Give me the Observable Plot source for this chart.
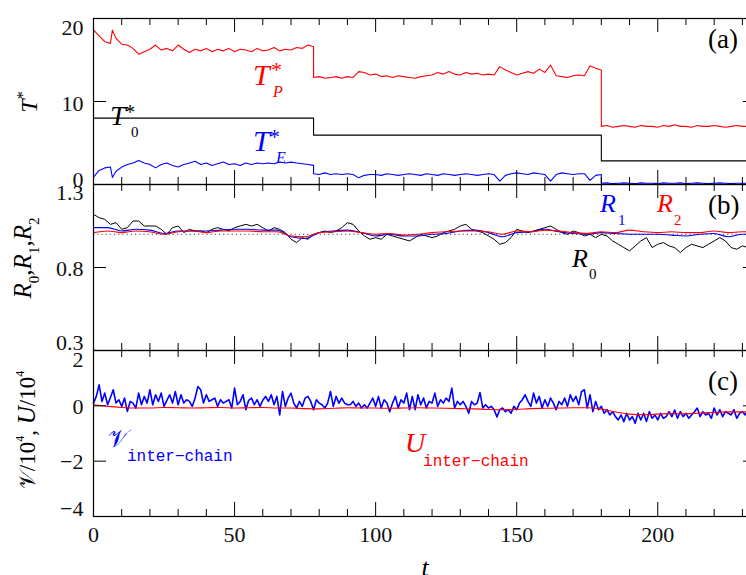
<!DOCTYPE html>
<html><head><meta charset="utf-8">
<script src="https://cdn.jsdelivr.net/npm/d3@7"></script>
<script src="https://cdn.jsdelivr.net/npm/@observablehq/plot@0.6"></script>
<style>
html,body{margin:0;padding:0;background:#fff;overflow:hidden}
#wrap{position:relative;width:746px;height:575px;overflow:hidden;background:#fff}
#wrap svg{position:absolute;left:0}
</style></head><body><div id="wrap"></div>
<script>
// ---------- tick values ----------
const xMajor = [0, 50, 100, 150, 200];
const xMinor = [10, 20, 30, 40, 60, 70, 80, 90, 110, 120, 130, 140, 160, 170, 180, 190, 210, 220, 230];
const aTicks = [0, 10, 20], aLabels = ["0", "10", "20"];
const bTicks = [0.3, 0.8, 1.3], bLabels = ["0.3", "0.8", "1.3"];
const cTicks = [-4, -2, 0, 2], cLabels = ["\u22124", "\u22122", "0", "2"];

// ---------- panel (a): temperatures ----------
const tA1 = [0, 2, 4, 6, 6.7, ...d3.range(8, 79, 2)];
const tA2 = d3.range(78, 181, 2);
const tA3 = d3.range(180, 233, 2);
const TP1 = [18.6,17.9,17.2,17.0,18.6,17.6,16.9,16.8,16.4,15.7,16.0,16.3,16.8,16.2,16.4,16.1,16.8,16.3,15.9,16.3,16.1,16.4,16.0,16.3,16.1,16.4,16.0,16.3,16.2,16.0,16.4,16.1,16.2,16.5,16.1,16.3,16.2,16.5,16.4,16.8,16.6];
const TP2 = [12.9,13.0,12.8,12.9,13.0,12.8,13.0,12.9,13.6,13.5,
             13.2,13.3,13.0,13.1,12.9,13.1,13.0,12.9,12.8,13.0,
             13.1,13.2,13.5,13.3,13.6,13.3,13.2,13.5,13.3,13.4,
             13.2,13.3,13.2,14.2,13.8,13.5,13.2,13.4,13.6,13.4,
             13.9,13.5,14.4,13.1,13.0,12.9,13.1,13.2,13.1,14.3,
             14.0,13.8];
const TP3 = [7.0,7.1,6.9,7.0,7.1,7.0,6.9,7.1,7.0,7.0,6.9,7.1,7.0,7.2,7.0,7.0,6.9,7.1,7.0,7.0,7.1,7.0,6.9,7.0,7.1,7.0,7.0];
const TE1 = [0.9,1.7,2.0,2.1,0.85,1.6,2.1,2.4,2.6,2.9,2.6,2.4,2.0,2.4,2.6,2.3,2.1,2.4,2.6,2.8,2.4,2.6,2.3,2.5,2.7,2.4,2.5,2.3,2.6,2.4,2.6,2.5,2.6,2.5,2.7,2.6,2.7,2.6,2.5,2.4,2.3];
const TE2 = [1.3,1.2,1.4,1.2,1.3,1.2,1.3,1.2,0.8,1.1,
             1.2,1.2,1.1,1.3,1.2,1.1,1.2,1.3,1.2,1.1,
             1.3,1.2,1.1,1.3,1.2,1.1,1.2,1.3,1.2,1.1,
             1.2,1.3,1.2,0.4,1.1,1.3,1.4,1.3,1.2,1.4,
             1.3,1.2,0.4,1.2,1.4,1.3,1.2,1.3,1.3,0.5,
             1.1,1.2];
const TE3 = [0.15,0.2,0.1,0.15,0.2,0.15,0.1,0.2,0.15,0.15,0.1,0.2,0.15,0.15,0.2,0.1,0.15,0.2,0.15,0.1,0.15,0.2,0.15,0.1,0.15,0.15,0.15];
const T0Breaks = [0, 78, 180, 232];
const T0 = [8.0, 5.95, 2.85];

// ---------- panel (b): ratios ----------
const tB0 = d3.range(0, 233, 2);
const R0 = [1.12,1.10,1.09,1.06,1.07,1.03,1.04,1.08,1.08,1.05,
            1.05,1.05,1.03,1.00,1.04,1.05,1.01,1.03,1.02,1.02,
            1.01,1.03,1.04,1.03,1.02,1.04,1.05,1.06,1.05,1.06,
            1.04,1.02,1.04,1.03,1.01,0.97,0.95,0.98,0.97,1.00,
            1.01,1.02,1.01,1.02,1.04,1.07,1.06,1.02,0.99,0.97,
            0.98,0.97,1.00,0.99,0.98,0.97,0.96,0.98,1.00,0.99,
            0.98,0.99,1.01,1.02,1.03,1.05,1.06,1.03,1.02,1.01,
            0.99,0.97,0.94,0.95,0.98,1.03,1.02,1.01,1.02,1.03,
            1.04,1.05,1.03,1.01,1.00,1.02,1.01,0.99,1.00,0.98,
            1.00,0.99,0.96,0.94,0.92,0.90,0.93,0.96,0.98,0.92,
            0.94,0.95,0.93,0.92,0.89,0.92,0.94,0.93,0.92,0.94,
            0.96,0.98,0.96,0.92,0.91,0.93,0.92];
const tB = d3.range(0, 236, 5);
const R1 = [1.04,1.04,1.02,1.03,1.025,1.005,1.02,1.02,1.02,1.025,
            1.03,1.03,1.025,1.025,0.985,0.975,1.01,1.02,1.025,1.01,
            0.99,1.0,0.99,0.99,1.0,1.005,1.02,1.025,1.01,0.985,
            1.01,1.015,1.03,1.015,1.005,1.0,1.01,1.005,1.0,1.0,
            1.0,0.995,0.99,1.0,1.005,0.985,1.0,1.0];
const R2 = [1.01,1.02,1.01,1.02,1.015,1.0,1.015,1.02,1.01,1.02,
            1.02,1.02,1.015,1.015,0.99,0.985,1.01,1.015,1.02,1.01,
            1.0,1.005,0.995,1.0,1.01,1.015,1.02,1.02,1.015,1.0,
            1.02,1.015,1.025,1.02,1.01,1.005,1.015,1.01,1.025,1.015,
            1.01,1.015,1.01,1.01,1.02,1.01,1.015,1.015];
const Rref = [1.0];

// ---------- panel (c): inter-chain virial and energy (/10^4) ----------
const tCV = d3.range(0, 233, 1);
const V = [0.10,0.34,0.76,0.16,0.46,0.04,0.30,0.58,0.10,0.22,
           -0.02,0.28,-0.20,0.16,0.10,-0.08,0.46,0.04,0.34,0.10,
           0.58,0.04,0.40,0.16,0.46,-0.02,0.20,0.40,0.10,0.52,
           0.04,0.40,0.10,0.22,0.16,-0.02,0.28,0.70,0.58,0.10,
           0.40,0.16,0.22,0.28,-0.02,0.22,0.10,0.16,0.22,-0.08,
           0.64,0.04,0.16,0.40,-0.14,0.20,0.28,0.04,0.22,-0.02,
           0.20,0.34,0.16,0.40,0.04,0.34,-0.33,0.52,-0.02,0.28,
           0.46,0.10,-0.08,0.16,-0.02,0.28,0.34,0.16,-0.14,0.22,
           0.10,0.04,-0.08,0.10,0.52,-0.02,0.34,0.10,0.28,0.10,
           0.04,0.04,0.16,-0.02,0.10,-0.08,0.04,-0.08,0.10,0.28,
           -0.02,0.34,-0.08,0.22,0.10,-0.21,0.10,0.34,-0.08,0.22,
           0.10,0.46,-0.14,0.34,-0.14,0.40,0.04,0.28,-0.08,0.16,
           0.10,0.46,-0.02,0.22,0.10,0.28,0.16,0.64,-0.08,0.16,
           0.04,0.16,-0.02,-0.27,0.16,0.04,0.10,0.48,-0.08,0.04,
           -0.08,-0.02,-0.14,-0.40,-0.14,-0.08,-0.21,-0.14,-0.27,-0.02,
           -0.14,0.10,0.22,0.40,0.16,-0.02,0.46,0.10,0.34,-0.08,
           0.22,-0.02,0.28,0.10,-0.14,0.16,0.04,0.28,-0.02,0.40,
           0.16,0.34,0.04,0.52,0.58,-0.08,0.40,-0.21,0.16,-0.14,
           -0.02,-0.27,-0.14,-0.33,-0.21,-0.39,-0.51,-0.33,-0.57,-0.27,
           -0.51,-0.39,-0.63,-0.27,-0.51,-0.27,-0.57,-0.21,-0.45,-0.33,
           -0.51,-0.27,-0.45,-0.39,-0.21,-0.39,-0.15,-0.45,-0.21,-0.39,
           -0.27,-0.45,-0.33,-0.21,-0.08,-0.39,-0.21,-0.33,-0.27,-0.45,
           -0.08,-0.33,-0.14,-0.39,-0.21,-0.27,-0.33,-0.14,-0.45,-0.27,
           -0.21,-0.33,-0.15];
const tCU = d3.range(0, 236, 5);
const U = [0.04,-0.02,-0.06,-0.08,-0.08,-0.06,-0.07,-0.08,-0.07,-0.06,
           -0.08,-0.07,-0.06,-0.08,-0.08,-0.10,-0.11,-0.09,-0.07,-0.08,
           -0.08,-0.09,-0.08,-0.07,-0.08,-0.09,-0.10,-0.11,-0.13,-0.14,
           -0.13,-0.10,-0.09,-0.08,-0.07,-0.07,-0.12,-0.22,-0.30,-0.32,
           -0.30,-0.28,-0.29,-0.26,-0.24,-0.22,-0.22,-0.22];

// ---------- helpers ----------
function zip(ts, vs, name) {
  if (ts.length !== vs.length) throw new Error(`length mismatch in ${name}: ${ts.length} vs ${vs.length}`);
  return ts.map((t, i) => ({t, v: vs[i]}));
}
const serif = "Liberation Serif, serif";
const mono = "Liberation Mono, monospace";
const W = 760, ML = 93, MR = 4, H = 166, FW = W - ML - MR;
const xDomain = [0, 235];
const TICKFS = 22;

function xTickMarks() {
  return [
    Plot.ruleX(xMinor, {x: d => d, insetBottom: H - 7, stroke: "#000"}),
    Plot.ruleX(xMinor, {x: d => d, insetTop: H - 7, stroke: "#000"}),
    Plot.ruleX(xMajor, {x: d => d, insetBottom: H - 14, stroke: "#000"}),
    Plot.ruleX(xMajor, {x: d => d, insetTop: H - 14, stroke: "#000"})
  ];
}
function yTickMarks(ticks) {
  return [
    Plot.ruleY(ticks, {y: d => d, insetRight: FW - 13, stroke: "#000"}),
    Plot.ruleY(ticks, {y: d => d, insetLeft: FW - 13, stroke: "#000"})
  ];
}
function yTickLabels(ticks, labels, dys) {
  return ticks.map((v, i) => Plot.text([v], {
    y: d => d, text: () => labels[i], frameAnchor: "left", dx: -10, dy: dys[i],
    textAnchor: "end", fontSize: TICKFS, fontFamily: serif, fill: "#111"
  }));
}
const style = {background: "transparent", overflow: "visible", maxWidth: "none", fontFamily: serif};

// ---------- panel (a) ----------
const redA = zip(tA1, TP1, "TP1").concat(zip(tA2, TP2, "TP2"), zip(tA3, TP3, "TP3"));
const blueA = zip(tA1, TE1, "TE1").concat(zip(tA2, TE2, "TE2"), zip(tA3, TE3, "TE3"));
const blackA = T0.flatMap((v, i) => [{t: T0Breaks[i], v}, {t: T0Breaks[i + 1], v}]);

const topA = 0, topB = 184, topC = 350;
const plotA = Plot.plot({
  width: W, height: 184, marginLeft: ML, marginRight: MR, marginTop: 18, marginBottom: 0,
  x: {domain: xDomain, axis: null}, y: {domain: [0, 20], axis: null}, style,
  marks: [
    Plot.line(redA, {x: "t", y: "v", stroke: "#ff0000", strokeWidth: 1.1}),
    Plot.line(blackA, {x: "t", y: "v", stroke: "#000", strokeWidth: 1.1}),
    Plot.line(blueA, {x: "t", y: "v", stroke: "#0000ff", strokeWidth: 1.1}),
    ...xTickMarks(), ...yTickMarks(aTicks),
    ...yTickLabels(aTicks, aLabels, [-5, 2, 9]),
    Plot.frame({stroke: "#000", strokeWidth: 1.2})
  ]
});

// ---------- panel (b) ----------
const plotB = Plot.plot({
  width: W, height: H, marginLeft: ML, marginRight: MR, marginTop: 0, marginBottom: 0,
  x: {domain: xDomain, axis: null}, y: {domain: [0.3, 1.3], axis: null}, style,
  marks: [
    Plot.ruleY(Rref, {y: d => d, stroke: "#444", strokeDasharray: "1.2,3"}),
    Plot.line(zip(tB0, R0, "R0"), {x: "t", y: "v", stroke: "#000", strokeWidth: 1}),
    Plot.line(zip(tB, R1, "R1"), {x: "t", y: "v", stroke: "#0000ff", strokeWidth: 1.1, curve: "monotone-x"}),
    Plot.line(zip(tB, R2, "R2"), {x: "t", y: "v", stroke: "#ff0000", strokeWidth: 1.1, curve: "monotone-x"}),
    ...xTickMarks(), ...yTickMarks(bTicks),
    ...yTickLabels(bTicks, bLabels, [-8, 1, 8]),
    Plot.frame({stroke: "#000", strokeWidth: 1.2})
  ]
});

// ---------- panel (c) ----------
const plotC = Plot.plot({
  width: W, height: 225, marginLeft: ML, marginRight: MR, marginTop: 0, marginBottom: 59,
  x: {domain: xDomain, axis: null}, y: {domain: [-4, 2], axis: null}, style,
  marks: [
    Plot.line(zip(tCV, V, "V"), {x: "t", y: "v", stroke: "#0000ff", strokeWidth: 1.6}),
    Plot.line(zip(tCU, U, "U"), {x: "t", y: "v", stroke: "#ff0000", strokeWidth: 1.1, curve: "monotone-x"}),
    ...xTickMarks(), ...yTickMarks(cTicks),
    ...yTickLabels(cTicks, cLabels, [-8, 1, 1, 9]),
    Plot.text(xMajor, {x: d => d, text: d => String(d), frameAnchor: "bottom", dy: 25,
      fontSize: TICKFS, fontFamily: serif, fill: "#111"}),
    Plot.frame({stroke: "#000", strokeWidth: 1.2})
  ]
});

const wrap = document.getElementById("wrap");
[[plotA, topA], [plotB, topB], [plotC, topC]].forEach(([p, top]) => { p.style.top = top + "px"; wrap.appendChild(p); });

// ---------- text labels (overlay) ----------
const ov = d3.select(wrap).append("svg").attr("width", 746).attr("height", 575)
  .style("top", "0px").style("overflow", "visible");
function at(plot, top, t, v) { return [plot.scale("x").apply(t), top + plot.scale("y").apply(v)]; }
function rich([x, y], parts, fill, rotate = 0, anchor = "start") {
  const g = ov.append("g").attr("transform", `translate(${x},${y}) rotate(${rotate})`);
  const txt = g.append("text").attr("fill", fill).attr("text-anchor", anchor);
  for (const p of parts) {
    const ts = txt.append("tspan").text(p.s).attr("font-size", p.size)
      .attr("font-family", p.family || serif).attr("font-style", p.italic ? "italic" : "normal");
    if (p.x != null) ts.attr("x", p.x);
    if (p.y != null) ts.attr("y", p.y);
    if (p.dx != null) ts.attr("dx", p.dx);
    if (p.dy != null) ts.attr("dy", p.dy);
  }
}
// panel (a)
rich(at(plotA, topA, 56.7, 11.9), [{s: "T", size: 30, italic: true}, {s: "*", size: 22, x: 18, y: -8}, {s: "P", size: 16, italic: true, x: 20, y: 12}], "#ff0000");
rich(at(plotA, topA, 6.0, 7.1), [{s: "T", size: 28, italic: true}, {s: "*", size: 20, x: 15, y: -6}, {s: "0", size: 15, x: 21, y: 12}], "#000");
rich(at(plotA, topA, 56.7, 3.98), [{s: "T", size: 30, italic: true}, {s: "*", size: 22, x: 16, y: -7}, {s: "E", size: 16, italic: true, x: 23, y: 12}], "#0000ff");
rich(at(plotA, topA, 218, 16.4), [{s: "(a)", size: 27}], "#000");
// panel (b)
rich(at(plotB, topB, 179.7, 1.131), [{s: "R", size: 26, italic: true}, {s: "1", size: 15, x: 18, y: 13}], "#0000ff");
rich(at(plotB, topB, 199.9, 1.131), [{s: "R", size: 26, italic: true}, {s: "2", size: 15, x: 17, y: 13}], "#ff0000");
rich(at(plotB, topB, 169.8, 0.80), [{s: "R", size: 26, italic: true}, {s: "0", size: 15, x: 17, y: 12}], "#000");
rich(at(plotB, topB, 218, 1.122), [{s: "(b)", size: 27}], "#000");
// panel (c)
rich(at(plotC, topC, 5.3, -1.49), [{s: "\u{1D4B1}", size: 24}, {s: "inter\u2212chain", size: 16, family: mono, x: 19, y: 14}], "#0000ff");
rich(at(plotC, topC, 110.6, -1.70), [{s: "U", size: 28, italic: true}, {s: "inter\u2212chain", size: 16, family: mono, x: 18, y: 14}], "#ff0000");
rich(at(plotC, topC, 218, 0.56), [{s: "(c)", size: 27}], "#000");
// axis titles
rich([37, 102], [{s: "T", size: 24, italic: true}, {s: "*", size: 16, dy: -9}], "#000", -90, "middle");
rich([31, 258], [
  {s: "R", size: 25, italic: true}, {s: "0", size: 15, dy: 8}, {s: ",", size: 25, dy: -8},
  {s: "R", size: 25, italic: true}, {s: "1", size: 15, dy: 8}, {s: ",", size: 25, dy: -8},
  {s: "R", size: 25, italic: true}, {s: "2", size: 15, dy: 8}], "#000", -90, "middle");
rich([35, 430], [
  {s: "\u{1D4B1}", size: 22}, {s: "/10", size: 23}, {s: "4", size: 12, dy: -11},
  {s: ",  ", size: 23, dy: 11}, {s: "U", size: 25, italic: true}, {s: "/10", size: 23},
  {s: "4", size: 12, dy: -11}], "#000", -90, "middle");
rich([425, 576], [{s: "t", size: 26, italic: true}], "#000", 0, "middle");
</script></body></html>
